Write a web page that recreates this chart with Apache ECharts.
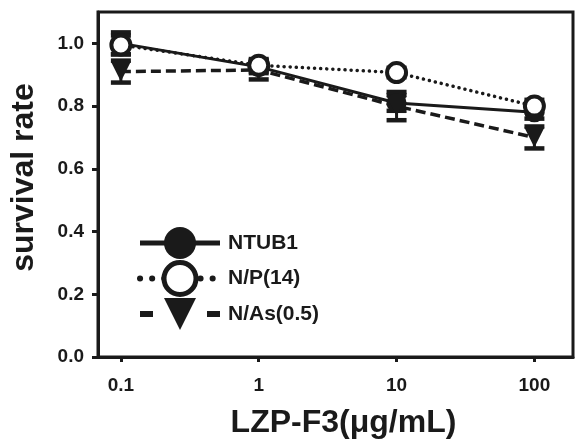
<!DOCTYPE html>
<html><head><meta charset="utf-8">
<script src="https://cdn.jsdelivr.net/npm/echarts@6/dist/echarts.min.js"></script>
<style>html,body{margin:0;padding:0;background:#fff}#c{width:576px;height:444px}</style>
</head><body><div id="c"></div>
<script>
const concentrations = [0.1, 1, 10, 100];
const xTickLabels = ['0.1', '1', '10', '100'];
const yTicks = [0, 0.2, 0.4, 0.6, 0.8, 1.0];
const seriesNames = ['NTUB1', 'N/P(14)', 'N/As(0.5)'];
const ntub1 = [1.0, 0.925, 0.81, 0.78];
const ntub1Err = [0.035, 0.02, 0.025, 0.02];
const np14 = [0.995, 0.93, 0.907, 0.80];
const np14Err = [0.03, 0.02, 0.015, 0.02];
const nas05 = [0.91, 0.915, 0.80, 0.70];
const nas05Err = [0.035, 0.03, 0.045, 0.035];

const logX = concentrations.map(v => Math.log10(v));
const tickPos = logX.slice();
const pts = arr => arr.map((v, i) => [logX[i], v]);
const errData = (vals, errs) => vals.map((v, i) => [logX[i], v - errs[i], v + errs[i]]);

const black = '#1a1a1a';
function errSeries(name, vals, errs) {
  return {
    type: 'custom', name: name + ' err', silent: true, z: 1,
    data: errData(vals, errs),
    renderItem: function (params, api) {
      const x = api.value(0);
      const lo = api.coord([x, api.value(1)]);
      const hi = api.coord([x, api.value(2)]);
      const w = 10;
      const st = { stroke: black, lineWidth: 4.5 };
      return { type: 'group', children: [
        { type: 'line', shape: { x1: lo[0], y1: lo[1], x2: hi[0], y2: hi[1] }, style: { stroke: black, lineWidth: 3 } },
        { type: 'line', shape: { x1: lo[0] - w, y1: lo[1], x2: lo[0] + w, y2: lo[1] }, style: st },
        { type: 'line', shape: { x1: hi[0] - w, y1: hi[1], x2: hi[0] + w, y2: hi[1] }, style: st }
      ]};
    }
  };
}

const chart = echarts.init(document.getElementById('c'));
chart.setOption({
  animation: false,
  backgroundColor: '#fff',
  grid: { left: 97, right: 3, top: 12, bottom: 84, show: true, borderColor: black, borderWidth: 3, backgroundColor: 'transparent' },
  xAxis: {
    type: 'value', min: -1.166, max: 2.28,
    name: 'LZP-F3(μg/mL)', nameLocation: 'middle', nameGap: 50,
    nameTextStyle: { fontFamily: 'Liberation Sans', fontWeight: 'bold', fontSize: 32, color: black, padding: [0, 0, 0, 16] },
    axisLine: { show: true, onZero: false, lineStyle: { color: black, width: 3 } },
    axisTick: { show: true, inside: false, length: 5, customValues: tickPos, lineStyle: { color: black, width: 3 } },
    axisLabel: { customValues: tickPos, margin: 19, fontFamily: 'Liberation Sans', fontWeight: 'bold', fontSize: 19, color: black,
      formatter: v => { const i = tickPos.findIndex(t => Math.abs(t - v) < 1e-6); return i >= 0 ? xTickLabels[i] : ''; } },
    splitLine: { show: false }
  },
  yAxis: {
    type: 'value', min: 0, max: 1.1,
    name: 'survival rate', nameLocation: 'middle', nameGap: 58,
    nameTextStyle: { fontFamily: 'Liberation Sans', fontWeight: 'bold', fontSize: 32, color: black, padding: [0, 0, 0, 14] },
    axisLine: { show: true, onZero: false, lineStyle: { color: black, width: 3 } },
    axisTick: { show: true, inside: false, length: 6, customValues: yTicks, lineStyle: { color: black, width: 3 } },
    axisLabel: { customValues: yTicks, margin: 14, fontFamily: 'Liberation Sans', fontWeight: 'bold', fontSize: 19, color: black,
      formatter: v => v.toFixed(1) },
    splitLine: { show: false }
  },
  legend: {
    orient: 'vertical', left: 132, top: 222, itemWidth: 80, itemHeight: 40, itemGap: 1,
    data: [
      { name: seriesNames[0] },
      { name: seriesNames[1], lineStyle: { type: [0.1, 12], cap: 'round', width: 6 }, itemStyle: { borderWidth: 5 } },
      { name: seriesNames[2], lineStyle: { type: [13, 54], width: 6 } }
    ],
    lineStyle: { width: 5 },
    textStyle: { fontFamily: 'Liberation Sans', fontWeight: 'bold', fontSize: 21, color: black, padding: [0, 0, 0, 3] }
  },
  series: [
    errSeries(seriesNames[0], ntub1, ntub1Err),
    errSeries(seriesNames[2], nas05, nas05Err),
    errSeries(seriesNames[1], np14, np14Err),
    { type: 'line', name: seriesNames[0], data: pts(ntub1), z: 3, symbol: 'circle', symbolSize: 20,
      itemStyle: { color: black }, lineStyle: { color: black, width: 3 } },
    { type: 'line', name: seriesNames[2], data: pts(nas05), z: 3, symbol: 'triangle', symbolRotate: 180, symbolSize: 20,
      itemStyle: { color: black }, lineStyle: { color: black, width: 3.5, type: [10, 5] } },
    { type: 'line', name: seriesNames[1], data: pts(np14), z: 4, symbol: 'circle', symbolSize: 19,
      itemStyle: { color: '#fff', borderColor: black, borderWidth: 4 },
      lineStyle: { color: black, width: 3.5, type: [0.1, 6], cap: 'round' } }
  ]
});
</script></body></html>
